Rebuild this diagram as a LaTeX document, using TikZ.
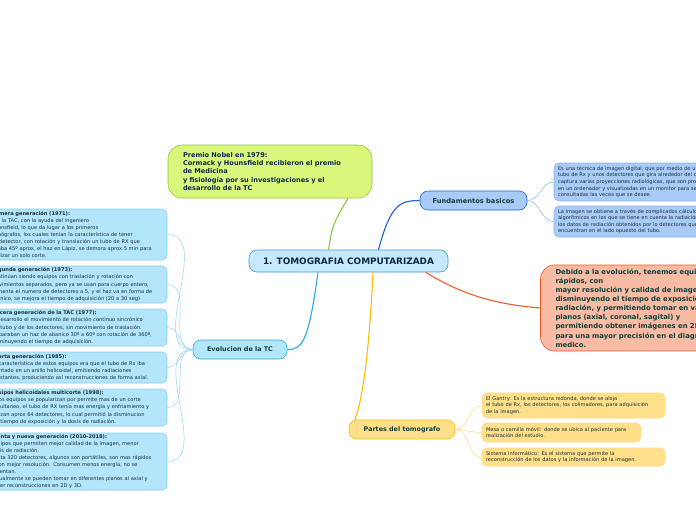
\documentclass[tikz,border=0pt]{standalone}
\usepackage{fontspec}
\setmainfont{DejaVu Sans}
\usetikzlibrary{calc}
\definecolor{txt}{HTML}{1B2F3A}
\definecolor{lbl}{HTML}{10403A}
\definecolor{ttl}{HTML}{0E2A47}
\definecolor{cfill}{HTML}{C6E9FB}
\definecolor{cline}{HTML}{3B9AD6}
\definecolor{gfill}{HTML}{DAF77C}
\definecolor{gline}{HTML}{8DC63F}
\definecolor{bfill}{HTML}{A9CBF8}
\definecolor{bline}{HTML}{1D5FD3}
\definecolor{bsub}{HTML}{8FB4EE}
\definecolor{ofill}{HTML}{F9BBA4}
\definecolor{oline}{HTML}{F05A28}
\definecolor{lfill}{HTML}{B3E5FB}
\definecolor{lline}{HTML}{29ABE2}
\definecolor{lsub}{HTML}{8FD3F5}
\definecolor{yfill}{HTML}{FFE08A}
\definecolor{yline}{HTML}{FFB800}
\definecolor{ysub}{HTML}{FFD97A}
\tikzset{
  box/.style={draw, line width=0.6pt, rounded corners=5pt, inner xsep=4pt, inner ysep=0pt, align=left, anchor=center},
  mainbox/.style={box, rounded corners=8pt, align=center, font=\bfseries\fontsize{6.4}{8}\selectfont, text=lbl},
  small/.style={font=\fontsize{5.1}{7.1}\selectfont, text=txt},
  smallr/.style={font=\fontsize{5.1}{6.6}\selectfont, text=txt},
  conn/.style={line width=1.1pt},
  sub/.style={line width=0.5pt},
}
\begin{document}
\begin{tikzpicture}[x=1pt,y=-1pt]
\useasboundingbox (0,0) rectangle (696,520);
% central
\node[mainbox, fill=cfill, draw=cline, minimum width=199pt, minimum height=22pt,
  font=\bfseries\fontsize{8.9}{10}\selectfont, text=ttl] (C) at (348.5,261) {1. TOMOGRAFIA COMPUTARIZADA};
% premio
\node[box, fill=gfill, draw=gline, rounded corners=14pt, minimum width=204pt, minimum height=53pt,
  text width=174pt, inner xsep=15pt, font=\bfseries\fontsize{6.6}{8.4}\selectfont, text=ttl] (P) at (270,171.5)
  {Premio Nobel en 1979:\\Cormack y Hounsfield recibieron el premio\\de Medicina\\y fisiología por su investigaciones y el\\desarrollo de la TC};
% fundamentos
\node[mainbox, fill=bfill, draw=bline, minimum width=107pt, minimum height=19pt, font=\bfseries\fontsize{6.7}{8}\selectfont] (F) at (473.5,200.5) {Fundamentos basicos};
\node[box, smallr, fill=bfill, draw=bsub, minimum width=198pt, minimum height=38pt, text width=190pt] (R1) at (653,182)
  {Es una técnica de imagen digital, que por medio de un\\tubo de Rx y unos detectores que gira alrededor del cuerpo,\\captura varias proyecciones radiológicas, que son procesadas\\en un ordenador y visualizadas en un monitor para ser\\consultadas las veces que se desee.};
\node[box, smallr, fill=bfill, draw=bsub, minimum width=198pt, minimum height=31pt, text width=190pt] (R2) at (653,221.5)
  {La imagen se obtiene a través de complicados cálculos\\algorítmicos en los que se tiene en cuenta la radiación y\\los datos de radiación obtenidos por lo detectores que se\\encuentran en el lado opuesto del tubo.};
% orange
\node[box, fill=ofill, draw=oline, rounded corners=14pt, minimum width=220pt, minimum height=86pt,
  text width=193pt, inner xsep=15pt, font=\bfseries\fontsize{6.9}{9.1}\selectfont, text=lbl] (O) at (652,308)
  {Debido a la evolución, tenemos equipos mas\\rápidos, con\\mayor resolución y calidad de imagen,\\disminuyendo el tiempo de exposición a la\\radiación, y permitiendo tomar en varios\\planos (axial, coronal, sagital) y\\permitiendo obtener imágenes en 2D y 3D\\para una mayor precisión en el diagnóstico\\medico.};
% evolucion
\node[mainbox, fill=lfill, draw=lline, minimum width=94pt, minimum height=19pt] (E) at (240,349.5) {Evolucion de la TC};
\tikzset{lb/.style={box, small, fill=lfill, draw=lsub!90!lline, minimum width=182pt, text width=170pt, inner xsep=6pt}}
\node[lb, minimum height=51pt] (L1) at (76,234.5)
  {\textbf{Primera generación (1971):}\\Fue la TAC, con la ayuda del ingeniero\\Hounsfield, lo que da lugar a los primeros\\tomógrafos, los cuales tenían la característica de tener\\un detector, con rotación y translación un tubo de RX que\\giraba 45º aprox, el haz en Lápiz, se demora aprox 5 min para\\realizar un solo corte.};
\node[lb, minimum height=37pt] (L2) at (76,284.5)
  {\textbf{Segunda generación (1973):}\\Continúan siendo equipos con traslación y rotación con\\movimientos separados, pero ya se usan para cuerpo entero,\\aumenta el numero de detectores a 5, y el haz va en forma de\\abanico, se mejora el tiempo de adquisición (20 a 30 seg)};
\node[lb, minimum height=37pt] (L3) at (76,327.5)
  {\textbf{Tercera generación de la TAC (1977):}\\El desarrollo el movimiento de rotación continuo sincrónico\\del tubo y de los detectores, sin movimiento de traslación.\\Disparaban un haz de abanico 30º a 60º con rotación de 360º,\\disminuyendo el tiempo de adquisición.};
\node[lb, minimum height=31pt] (L4) at (76,367.5)
  {\textbf{Cuarta generación (1985):}\\La característica de estos equipos era que el tubo de Rx iba\\montado en un anillo helicoidal, emitiendo radiaciones\\constantes, produciendo así reconstrucciones de forma axial.};
\node[lb, minimum height=37pt] (L5) at (76,407.5)
  {\textbf{Equipos helicoidales multicorte (1998):}\\Estos equipos se popularizan por permite mas de un corte\\simultaneo, el tubo de RX tenía mas energía y enfriamiento y\\utilizan aprox 64 detectores, lo cual permitió la disminucion\\del tiempo de exposición y la dosis de radiación.};
\node[lb, minimum height=57pt] (L6) at (76,461.5)
  {\textbf{Quinta y nueva generación (2010-2018):}\\Equipos que permiten mejor calidad de la imagen, menor\\dosis de radiación.\\Hasta 320 detectores, algunos son portátiles, son mas rápidos\\y con mejor resolución. Consumen menos energía, no se\\calientan.\\Actualmente se pueden tomar en diferentes planos al axial y\\hacer reconstrucciones en 2D y 3D.};
% partes
\node[mainbox, fill=yfill, draw=yline, minimum width=106pt, minimum height=19pt] (T) at (402,429.5) {Partes del tomografo};
\tikzset{yb/.style={box, smallr, fill=yfill, draw=ysub, text width=175pt}}
\node[yb, minimum width=183pt, minimum height=25pt] (Y1) at (573.5,405.5)
  {El Gantry: Es la estructura redonda, donde se aloja\\el tubo de Rx, los detectores, los colimadores, para adquisición\\de la imagen.};
\node[yb, minimum width=159pt, text width=151pt, minimum height=19pt] (Y2) at (561.5,432.5)
  {Mesa o camilla móvil: donde se ubica al paciente para\\realización del estudio.};
\node[yb, minimum width=183pt, minimum height=18pt] (Y3) at (573.5,457)
  {Sistema informático: Es el sistema que permite la\\reconstrucción de los datos y la información de la imagen.};
% main connectors
\draw[conn, gline] ($(C.north)+(-20,0)$) .. controls ($(C.north)+(-16,-25)$) .. ($(P.south)+(78,0)$);
\draw[conn, bline] ($(C.north)+(30,0)$) .. controls ($(C.north)+(42,-45)$) and ($(F.west)+(-20,0)$) .. (F.west);
\draw[conn, oline] ($(C.south)+(77,0)$) .. controls ($(C.south)+(110,20)$) and ($(O.west)+(-50,-4)$) .. (O.west);
\draw[conn, yline] ($(C.south)+(24.5,0)$) .. controls ($(C.south)+(20,90)$) and ($(T.north)+(-40,-20)$) .. ($(T.north)+(-47,0)$);
\draw[conn, lline] ($(C.south)+(-30.5,0)$) .. controls ($(C.south)+(-40,70)$) and ($(E.east)+(15,0)$) .. (E.east);
% sub connectors
\foreach \n in {L1,L2,L3,L4,L5,L6} \draw[sub, lsub] (E.west) to[out=180, in=0] (\n.east);
\foreach \n in {R1,R2} \draw[sub, bsub] (F.east) to[out=0, in=180] (\n.west);
\foreach \n in {Y1,Y2,Y3} \draw[sub, ysub] (T.east) to[out=0, in=180] (\n.west);
\end{tikzpicture}
\end{document}
